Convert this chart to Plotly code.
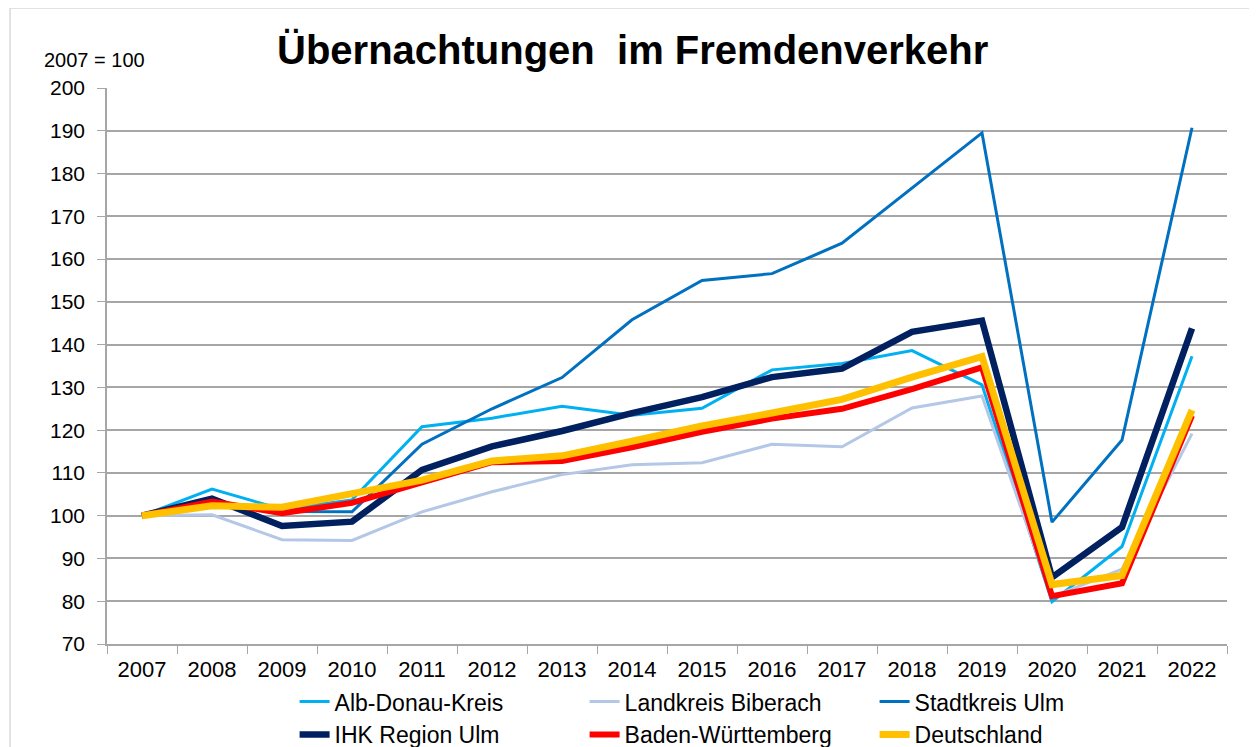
import plotly.graph_objects as go

years = ["2007", "2008", "2009", "2010", "2011", "2012", "2013", "2014",
         "2015", "2016", "2017", "2018", "2019", "2020", "2021", "2022"]

alb_donau = [100, 106.2, 101.5, 103.7, 120.8, 122.8, 125.6, 123.5, 125.1, 134.1, 135.6, 138.6, 130.6, 79.9, 92.8, 137.3]
biberach = [100, 100.2, 94.4, 94.2, 100.9, 105.6, 109.6, 111.9, 112.4, 116.7, 116.1, 125.2, 128.0, 81.0, 87.5, 119.2]
ulm = [100, 102.8, 101.0, 100.9, 116.7, 125.0, 132.3, 145.8, 155.0, 156.6, 163.7, 176.6, 189.5, 98.5, 117.7, 190.7]
ihk = [100, 104.0, 97.6, 98.6, 110.7, 116.2, 119.8, 124.0, 127.7, 132.4, 134.4, 143.0, 145.6, 85.6, 97.3, 143.8]
bw = [100, 103.3, 100.6, 103.0, 107.8, 112.5, 112.8, 116.0, 119.6, 122.7, 125.0, 129.6, 134.7, 81.2, 84.2, 123.4]
de = [100, 102.3, 102.0, 105.2, 108.3, 112.8, 114.0, 117.4, 121.0, 124.0, 127.2, 132.4, 137.2, 83.9, 86.0, 124.7]

series = [
    ("Alb-Donau-Kreis", alb_donau, "#00B0F0", 3),
    ("Landkreis Biberach", biberach, "#B4C7E7", 3),
    ("Stadtkreis Ulm", ulm, "#0070C0", 3),
    ("IHK Region Ulm", ihk, "#002060", 6.5),
    ("Baden-Württemberg", bw, "#FF0000", 6),
    ("Deutschland", de, "#FFC000", 7),
]

fig = go.Figure()
for name, vals, color, width in series:
    fig.add_trace(go.Scatter(x=years, y=vals, name=name, mode="lines",
                             line=dict(color=color, width=width)))

font_family = "Liberation Sans, Arial, sans-serif"

fig.update_layout(
    width=1257, height=747,
    margin=dict(l=99, r=38, t=80, b=111, autoexpand=False),
    paper_bgcolor="white", plot_bgcolor="white",
    font=dict(family=font_family, size=21, color="black"),
    showlegend=True,
    legend=dict(orientation="h", x=0.1675, xanchor="left", y=-0.065, yanchor="top",
                entrywidth=245, entrywidthmode="pixels",
                font=dict(size=23), tracegroupgap=0, bgcolor="rgba(0,0,0,0)"),
    xaxis=dict(type="category", range=[-0.5, 15.5], showgrid=False,
               showline=True, linecolor="#A6A6A6", linewidth=1.5,
               ticks="outside", tickson="boundaries", ticklen=8, tickcolor="#A6A6A6",
               ticklabelstandoff=5, tickfont=dict(size=22)),
    yaxis=dict(range=[70, 200], dtick=10, showgrid=True, gridcolor="#A6A6A6", gridwidth=1.5,
               showline=True, linecolor="#A6A6A6", linewidth=1.5,
               ticks="outside", ticklen=8, tickcolor="#A6A6A6", ticklabelstandoff=8,
               tickfont=dict(size=21), zeroline=False),
    annotations=[
        dict(text="<b>Übernachtungen  im Fremdenverkehr</b>", xref="paper", yref="paper",
             x=0.469, y=1.068, xanchor="center", yanchor="middle", showarrow=False,
             font=dict(size=40, family=font_family, color="black")),
        dict(text="2007 = 100", xref="paper", yref="paper",
             x=-0.058, y=1.050, xanchor="left", yanchor="middle", showarrow=False,
             font=dict(size=20, family=font_family, color="black")),
    ],
    shapes=[
        dict(type="rect", xref="paper", yref="paper", x0=-0.0866, x1=1.025, y0=-0.25, y1=1.1439,
             line=dict(color="#D9D9D9", width=1.5), fillcolor="rgba(0,0,0,0)", layer="below"),
    ],
)

fig.write_html("out.html")
